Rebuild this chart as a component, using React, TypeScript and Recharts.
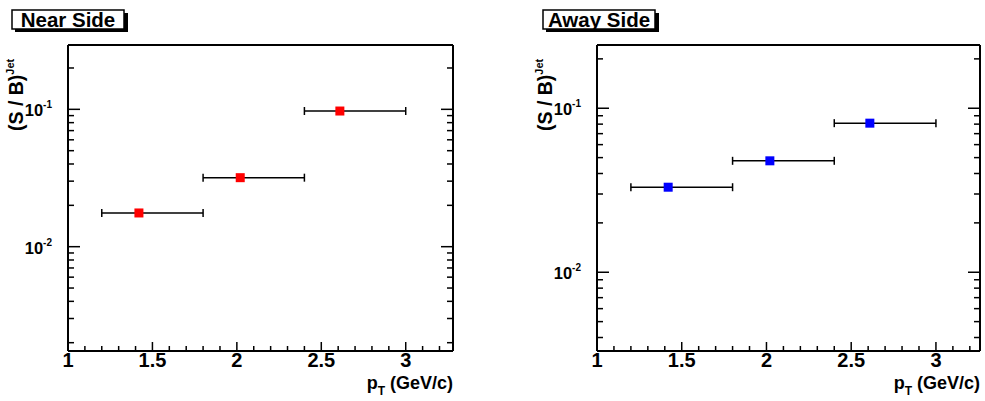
import { ScatterChart, Scatter, XAxis, YAxis, ErrorBar } from "recharts";

// pT bins (GeV/c)
const ptCenter = [1.42, 2.02, 2.61];
const ptLow = [1.2, 1.8, 2.4];
const ptHigh = [1.8, 2.4, 3.0];

// (S/B)^Jet per bin
const nearSB = [0.0176, 0.0318, 0.0972];
const awaySB = [0.033, 0.0478, 0.0811];

const xTicks = [
  1, 1.1, 1.2, 1.3, 1.4, 1.5, 1.6, 1.7, 1.8, 1.9, 2, 2.1, 2.2, 2.3, 2.4, 2.5,
  2.6, 2.7, 2.8, 2.9, 3, 3.1, 3.2,
];
const xMajor = [1, 1.5, 2, 2.5, 3];

const nearYTicks = [
  0.002, 0.003, 0.004, 0.005, 0.006, 0.007, 0.008, 0.009, 0.01, 0.02, 0.03,
  0.04, 0.05, 0.06, 0.07, 0.08, 0.09, 0.1, 0.2,
];
const awayYTicks = [
  0.004, 0.005, 0.006, 0.007, 0.008, 0.009, 0.01, 0.02, 0.03, 0.04, 0.05,
  0.06, 0.07, 0.08, 0.09, 0.1, 0.2,
];

const FONT = '"Liberation Sans", Arial, Helvetica, sans-serif';

const buildRows = (vals: number[]) =>
  ptCenter.map((c, i) => ({
    pt: c,
    sb: vals[i],
    xerr: [c - ptLow[i], ptHigh[i] - c],
  }));

const isMajorX = (v: number) => xMajor.some((m) => Math.abs(m - v) < 1e-6);
const isDecade = (v: number) => {
  const l = Math.log10(v);
  return Math.abs(l - Math.round(l)) < 1e-6;
};

function BottomTick({ x, y, payload }: any) {
  const v = payload.value;
  const major = isMajorX(v);
  return (
    <g>
      <line x1={x} x2={x} y1={y} y2={y - (major ? 9 : 5)} stroke="#000" strokeWidth={1.5} />
      {major && (
        <text
          x={x}
          y={y + 16}
          textAnchor="middle"
          fontSize={20}
          fontWeight="bold"
          fontFamily={FONT}
          fill="#000"
        >
          {String(v)}
        </text>
      )}
    </g>
  );
}

function TopTick({ x, y, payload }: any) {
  const major = isMajorX(payload.value);
  return <line x1={x} x2={x} y1={y} y2={y + (major ? 9 : 5)} stroke="#000" strokeWidth={1.5} />;
}

function LeftTick({ x, y, payload }: any) {
  const v = payload.value;
  const major = isDecade(v);
  return (
    <g>
      <line x1={x} x2={x + (major ? 12 : 6)} y1={y} y2={y} stroke="#000" strokeWidth={1.5} />
      {major && (
        <text
          x={x - 16}
          y={y + 7}
          textAnchor="end"
          fontSize={16.5}
          fontWeight="bold"
          fontFamily={FONT}
          fill="#000"
        >
          <tspan>10</tspan>
          <tspan dy={-8} fontSize={10}>
            {String(Math.round(Math.log10(v)))}
          </tspan>
        </text>
      )}
    </g>
  );
}

function RightTick({ x, y, payload }: any) {
  const major = isDecade(payload.value);
  return <line x1={x} x2={x - (major ? 12 : 6)} y1={y} y2={y} stroke="#000" strokeWidth={1.5} />;
}

const axisLine = { stroke: "#000", strokeWidth: 2 };

function Panel({
  rows,
  color,
  yDomain,
  yTicks,
  xMax,
  width,
  margin,
  rightW,
}: {
  rows: { pt: number; sb: number; xerr: number[] }[];
  color: string;
  yDomain: [number, number];
  yTicks: number[];
  xMax: number;
  width: number;
  margin: { top: number; right: number; bottom: number; left: number };
  rightW: number;
}) {
  return (
    <ScatterChart width={width} height={401} margin={margin}>
      <XAxis
        xAxisId="b"
        dataKey="pt"
        type="number"
        domain={[1, xMax]}
        allowDataOverflow
        ticks={xTicks}
        interval={0}
        tickSize={0}
        tickMargin={0}
        height={30}
        axisLine={axisLine}
        tick={<BottomTick />}
      />
      <XAxis
        xAxisId="t"
        orientation="top"
        type="number"
        domain={[1, xMax]}
        allowDataOverflow
        ticks={xTicks}
        interval={0}
        tickSize={0}
        tickMargin={0}
        height={10}
        axisLine={axisLine}
        tick={<TopTick />}
      />
      <YAxis
        yAxisId="l"
        dataKey="sb"
        type="number"
        scale="log"
        domain={yDomain}
        allowDataOverflow
        ticks={yTicks}
        interval={0}
        tickSize={0}
        tickMargin={0}
        width={60}
        axisLine={axisLine}
        tick={<LeftTick />}
      />
      <YAxis
        yAxisId="r"
        orientation="right"
        type="number"
        scale="log"
        domain={yDomain}
        allowDataOverflow
        ticks={yTicks}
        interval={0}
        tickSize={0}
        tickMargin={0}
        width={rightW}
        axisLine={axisLine}
        tick={<RightTick />}
      />
      <Scatter
        xAxisId="b"
        yAxisId="l"
        data={rows}
        isAnimationActive={false}
        shape={(p: any) => (
          <rect x={p.cx - 4.5} y={p.cy - 4.5} width={9} height={9} fill={color} />
        )}
      >
        <ErrorBar dataKey="xerr" direction="x" width={4} stroke="#000" strokeWidth={1.5} />
      </Scatter>
    </ScatterChart>
  );
}

function Decor({ bx, label, yx }: { bx: number; label: string; yx: number }) {
  return (
    <g fontFamily={FONT} fontWeight="bold" fill="#000">
      <rect x={bx + 3} y={13} width={113} height={19} fill="#000" />
      <rect x={bx} y={10} width={112} height={19} fill="#fff" stroke="#000" strokeWidth={1.5} />
      <text x={bx + 56} y={27} textAnchor="middle" fontSize={20.5}>
        {label}
      </text>
      <text transform={`translate(${yx},131) rotate(-90)`} fontSize={19.5}>
        <tspan>(S / B)</tspan>
        <tspan dy={-9} fontSize={11}>
          Jet
        </tspan>
      </text>
    </g>
  );
}

function XTitle({ right }: { right: number }) {
  return (
    <text
      x={right}
      y={389}
      textAnchor="end"
      fontFamily={FONT}
      fontWeight="bold"
      fontSize={18}
      fill="#000"
    >
      <tspan>p</tspan>
      <tspan dy={6} fontSize={12}>
        T
      </tspan>
      <tspan dy={-6}> (GeV/c)</tspan>
    </text>
  );
}

export default function App() {
  return (
    <div
      style={{
        position: "absolute",
        left: 0,
        top: 0,
        width: 985,
        height: 401,
        background: "#fff",
        overflow: "hidden",
      }}
    >
      <div style={{ position: "absolute", left: 0, top: 0 }}>
        <Panel
          rows={buildRows(nearSB)}
          color="#ff0000"
          yDomain={[0.00174, 0.294]}
          yTicks={nearYTicks}
          xMax={3.28}
          width={492}
          margin={{ top: 35, right: 29, bottom: 20, left: 8 }}
          rightW={10}
        />
      </div>
      <div style={{ position: "absolute", left: 492, top: 0 }}>
        <Panel
          rows={buildRows(awaySB)}
          color="#0000ff"
          yDomain={[0.00331, 0.243]}
          yTicks={awayYTicks}
          xMax={3.26}
          width={493}
          margin={{ top: 35, right: 0, bottom: 20, left: 45 }}
          rightW={5}
        />
      </div>
      <svg
        width={985}
        height={401}
        style={{ position: "absolute", left: 0, top: 0, pointerEvents: "none" }}
      >
        <Decor bx={12} label="Near Side" yx={23} />
        <Decor bx={543} label="Away Side" yx={552} />
        <XTitle right={453} />
        <XTitle right={980} />
      </svg>
    </div>
  );
}
